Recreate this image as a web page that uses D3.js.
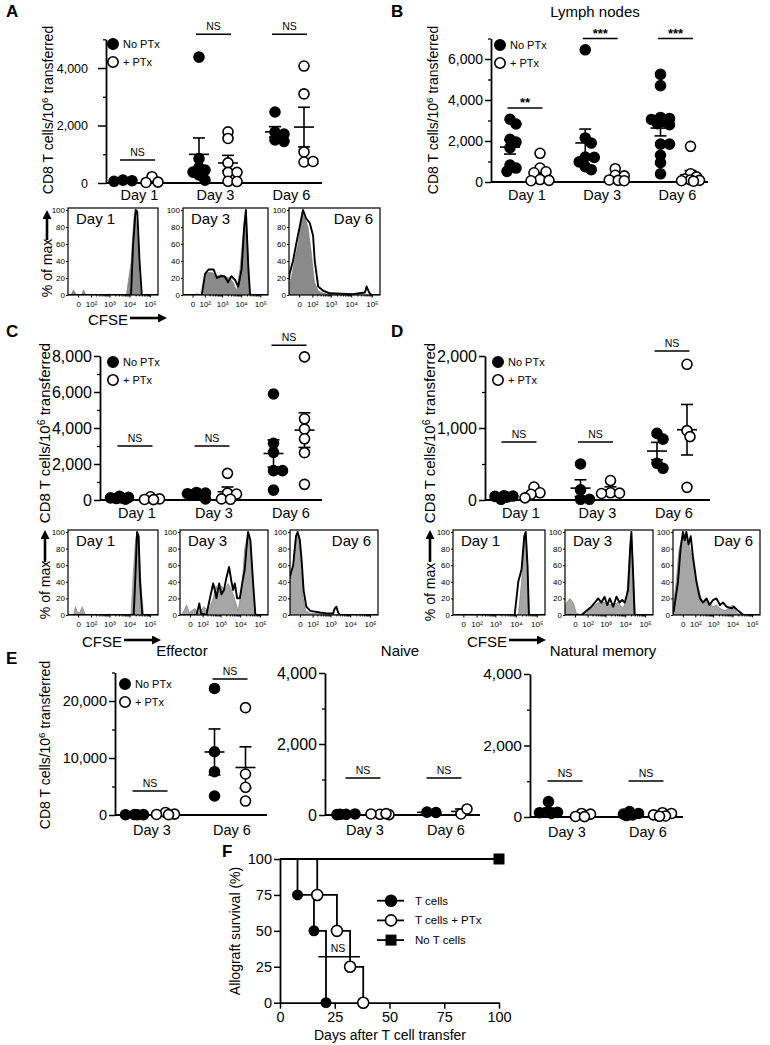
<!DOCTYPE html>
<html>
<head>
<meta charset="utf-8">
<script src="https://cdn.jsdelivr.net/npm/d3@7"></script>
<style>
body { margin: 0; background: #fff; }
svg text { font-family: "Liberation Sans", Arial, Helvetica, sans-serif; fill: #000; }
</style>
</head>
<body>
<svg id="fig" width="770" height="1045"></svg>
<script>
// ---- data ----
var days3 = ["Day 1", "Day 3", "Day 6"];
var daysE = ["Day 3", "Day 6"];
var groupNames = ["No PTx", "+ PTx"];

// A (untitled)
var aNoPtx = [[100, 80, 60], [4380, 850, 540, 450, 380, 280, 100], [2470, 1770, 1700, 1500, 1450]];
var aPtx = [[220, 30, 20], [1780, 1550, 700, 370, 370, 60, 50], [4070, 3100, 1080, 730, 750]];
var aSig = ["NS", "NS", "NS"];
var aSigY = [800, 5180, 5180];
var aTicks = [0, 2000, 4000];
var aMinor = [1000, 3000, 5000];

// B lymph nodes
var bNoPtx = [[3060, 2830, 2080, 1950, 1680, 830, 680, 520],
  [6450, 2150, 1900, 1220, 1200, 980, 750, 600],
  [5250, 4700, 3150, 3100, 3050, 2950, 2850, 2800, 1850, 1850, 1300, 950, 400]];
var bPtx = [[1400, 680, 500, 450, 120, 80, 60], [650, 330, 300, 100, 80, 60], [1740, 400, 250, 150, 100, 80, 60, 40]];
var bSig = ["**", "***", "***"];
var bSigY = [3610, 7000, 7000];
var bTicks = [0, 2000, 4000, 6000];
var bMinor = [1000, 3000, 5000, 7000];

// C
var cNoPtx = [[200, 150, 120, 100, 80, 50], [420, 380, 350, 320, 300, 60], [5890, 3150, 2650, 1630, 1630, 550]];
var cPtx = [[180, 60, 30, 20], [1480, 380, 330, 60, 40], [7950, 4510, 3940, 3400, 2630, 870]];
var cSig = ["NS", "NS", "NS"];
var cSigY = [3000, 3000, 8600];
var cTicks = [0, 2000, 4000, 6000, 8000];
var cMinor = [1000, 3000, 5000, 7000];

// D
var dNoPtx = [[60, 55, 50, 40, 10], [500, 140, 10, 10], [925, 845, 510, 440]];
var dPtx = [[180, 100, 80, 30], [270, 100, 95, 90], [1885, 963, 880, 176]];
var dSig = ["NS", "NS", "NS"];
var dSigY = [805, 805, 2070];
var dTicks = [0, 1000, 2000];
var dMinor = [500, 1500];

// E
var effNoPtx = [[80, 60, 50, 40], [22200, 11100, 7600, 3330]];
var effPtx = [[450, 150, 100, 60], [18830, 7190, 4860, 2450]];
var effSigY = [4210, 23860];
var effTicks = [0, 10000, 20000];
var effMinor = [5000, 15000, 25000];
var naiNoPtx = [[20, 30, 10, 20], [80, 70]];
var naiPtx = [[20, 10, 30, 40], [30, 170]];
var naiSigY = [1040, 1040];
var memNoPtx = [[430, 150, 130, 120, 100], [150, 100, 80, 60, 40]];
var memPtx = [[100, 80, 15, 10], [120, 100, 60, 30, 20]];
var memSigY = [1007, 1007];
var e4Ticks = [0, 2000, 4000];
var e4Minor = [1000, 3000];
var eSig = ["NS", "NS"];

// histograms: [CFSE, % of max]
var a1Fill = [[-64,0],[-35,0],[-22,6],[-4,0],[14,0],[25,6],[42,0],[7000,0],[11800,38],[17000,96],[19600,98],[26000,58],[31000,15],[37000,0],[250000,0]];
var a1Line = [[-64,0],[11800,0],[15000,60],[20000,100],[24000,98],[31000,40],[40000,0],[250000,0]];
var a3Fill = [[-64,0],[14,0],[20,2],[35,0],[60,0],[105,18],[135,27],[345,26],[527,22],[810,24],[1360,22],[2536,20],[3830,15],[5760,5],[8700,30],[14400,85],[17700,100],[24000,40],[27000,0],[250000,0]];
var a3Line = [[-64,0],[60,0],[105,25],[172,30],[345,30],[527,20],[810,22],[1360,22],[2070,15],[3100,22],[4700,18],[7070,10],[10600,30],[14400,80],[17700,100],[24000,30],[29500,0],[250000,0]];
var a6Fill = [[-64,15],[-43,20],[-21,40],[-4,60],[8,85],[15.6,95],[29,90],[50,80],[86,50],[135,15],[220,5],[405,2],[1300,1],[11800,0],[250000,0]];
var a6Line = [[-64,18],[-58,25],[-30,40],[-12,60],[1.5,80],[15.6,100],[25,95],[35,90],[67,85],[111,70],[140,40],[220,10],[405,5],[897,2],[11800,1],[46500,3],[55900,10],[74000,3],[95000,0],[250000,0]];
var c1Fill = [[-64,0],[-20,0],[-10,10],[-2,3],[5.7,3],[18,10],[39,0],[11800,0],[14400,40],[19650,90],[23400,100],[29600,80],[38000,30],[49000,0],[250000,0]];
var c1Line = [[-64,0],[16000,0],[19650,50],[23400,100],[28000,95],[32700,40],[42500,0],[250000,0]];
var c3Fill = [[-64,0],[-47,0],[-14,12],[-2,3],[23.6,8],[50,2],[121,10],[220,5],[412,20],[585,35],[760,28],[1125,35],[1670,30],[2460,38],[3640,30],[5200,20],[7820,5],[11800,30],[17000,80],[25000,100],[32700,90],[44300,30],[60000,0],[250000,0]];
var c3Line = [[-64,0],[35,0],[59,14],[78,2],[172,0],[273,20],[412,38],[506,30],[617,20],[850,38],[1125,25],[1512,30],[2020,45],[2750,58],[3640,40],[4420,30],[5360,38],[7070,20],[9560,20],[13000,40],[17000,55],[20600,80],[25000,100],[32700,90],[44300,40],[58200,0],[250000,0]];
var c6Fill = [[-64,45],[-57,50],[-35,60],[-17,95],[-9,100],[0,85],[6.4,60],[14,20],[29,5],[64,2],[1360,1],[5000,0],[250000,0]];
var c6Line = [[-64,45],[-57,50],[-35,60],[-17,95],[-9,100],[0,90],[7,65],[16,30],[33,10],[70,5],[273,3],[617,2],[1360,2],[1670,8],[2020,10],[2460,3],[3100,0],[250000,0]];
var d1Fill = [[-64,0],[13000,0],[18700,40],[25300,95],[29600,100],[36200,60],[44300,0],[250000,0]];
var d1Line = [[-64,0],[8700,0],[13000,40],[18700,55],[25300,95],[29600,100],[36200,60],[42100,0],[250000,0]];
var d3Fill = [[-64,10],[-47,15],[-23,20],[-6.4,15],[5.7,2],[35,0],[64,3],[172,8],[412,15],[897,15],[2020,12],[4240,15],[7820,8],[11800,20],[17000,80],[20600,100],[25000,60],[32700,0],[250000,0]];
var d3Line = [[-64,0],[35,0],[85,5],[172,10],[273,15],[412,20],[617,15],[897,22],[1230,12],[1670,20],[2460,10],[3640,22],[5200,15],[7070,18],[9560,15],[14000,30],[18300,85],[20600,100],[25000,50],[29600,0],[250000,0]];
var d6Fill = [[-64,10],[-56,15],[-35,40],[-19,75],[-5.7,90],[4.6,95],[15.6,100],[29,85],[50,75],[78,60],[119,40],[192,25],[292,15],[450,20],[654,15],[1000,10],[1512,12],[2290,8],[4240,5],[7370,10],[10600,12],[16000,3],[29600,0],[250000,0]];
var d6Line = [[-64,3],[-56,5],[-22.5,40],[-8.7,80],[0.6,100],[7.5,90],[15.6,100],[29,85],[46,95],[69,70],[119,40],[192,20],[292,15],[450,20],[654,12],[1000,18],[1512,20],[2290,12],[3340,15],[4940,10],[8920,8],[11800,10],[19650,5],[36200,0],[250000,0]];
var cfseTicks = [0, 100, 1000, 10000, 100000];
var cfseLabels = ["0", "10\u00b2", "10\u00b3", "10\u2074", "10\u2075"];
var pctTicks = [0, 20, 40, 60, 80, 100];

// F survival
var fTicks = [0, 25, 50, 75, 100];
var fTcells = [[0, 100], [8, 75], [15.5, 50], [21, 0]];
var fTcellsPtx = [[0, 100], [17, 75], [26, 50], [32, 25], [38, 0]];
var fNoTcells = [[0, 100], [100, 100]];
var fLegend = ["T cells", "T cells + PTx", "No T cells"];

var svg = d3.select("#fig");
var fmt = d3.format(",");

// scatter spreading like Prism: nearest free slot, capped width
function swarm(vals, y, r) {
  var placed = [];
  var step = r * 0.6, minD = r * 1.3, maxSpread = r * 2.2;
  vals.forEach(function(v) {
    var p = {v: v, py: y(v), dx: 0};
    var cands = [0];
    for (var k = 1; k * step <= maxSpread + 0.01; k++) { cands.push(k * step, -k * step); }
    var best = null, bestD = -1;
    for (var i = 0; i < cands.length; i++) {
      var dx = cands[i];
      var dmin = d3.min(placed, function(q) { return Math.hypot(q.dx - dx, q.py - p.py); });
      if (dmin === undefined) dmin = Infinity;
      if (dmin >= minD) { best = dx; break; }
      if (dmin > bestD) { bestD = dmin; best = dx; }
    }
    p.dx = best;
    placed.push(p);
  });
  return placed;
}

function dotPanel(p) {
  var g = svg.append("g");
  var y = d3.scaleLinear().domain([0, p.max]).range([p.y0, p.yTop]);
  var x = d3.scalePoint().domain(p.days).range([p.c0, p.c1]);

  var ax = g.append("g").attr("transform", "translate(" + p.ax + ",0)")
    .call(d3.axisLeft(y).tickValues(p.ticks).tickSize(p.tickLen || 6).tickSizeOuter(0).tickPadding(p.pad || 2).tickFormat(fmt));
  ax.select(".domain").attr("stroke-width", 1.8);
  ax.selectAll(".tick line").attr("stroke-width", 1.5);
  ax.selectAll(".tick text").style("font-size", p.tickFont + "px");
  var mn = g.append("g").attr("transform", "translate(" + p.ax + ",0)")
    .call(d3.axisLeft(y).tickValues(p.minor).tickSize(3).tickFormat(""));
  mn.select(".domain").remove();
  mn.selectAll(".tick line").attr("stroke-width", 1.3);

  g.append("line").attr("x1", p.ax).attr("x2", p.ax2).attr("y1", y(0)).attr("y2", y(0))
    .attr("stroke", "#000").attr("stroke-width", 1.8);

  g.selectAll(".dayl").data(p.days).enter().append("text")
    .attr("x", function(d) { return x(d) + 2; }).attr("y", p.dayY)
    .attr("text-anchor", "middle").style("font-size", "14.5px").text(function(d) { return d; });

  [p.noPtx, p.ptx].forEach(function(series, gi) {
    series.forEach(function(vals, di) {
      var cx = x(p.days[di]) + (gi === 0 ? -p.off : p.off);
      var m = d3.mean(vals), s = d3.deviation(vals) / Math.sqrt(vals.length);
      var lo = Math.max(0, m - s), hi = m + s;
      var eb = g.append("g").attr("stroke", "#000").attr("stroke-width", 1.6);
      eb.append("line").attr("x1", cx - 10).attr("x2", cx + 10).attr("y1", y(m)).attr("y2", y(m));
      eb.append("line").attr("x1", cx).attr("x2", cx).attr("y1", y(lo)).attr("y2", y(hi));
      eb.append("line").attr("x1", cx - 6).attr("x2", cx + 6).attr("y1", y(hi)).attr("y2", y(hi));
      eb.append("line").attr("x1", cx - 6).attr("x2", cx + 6).attr("y1", y(lo)).attr("y2", y(lo));
      g.selectAll(null).data(swarm(vals, y, p.r)).enter().append("circle")
        .attr("cx", function(d) { return cx + d.dx; }).attr("cy", function(d) { return d.py; })
        .attr("r", p.r).attr("fill", gi === 0 ? "#000" : "#fff")
        .attr("stroke", "#000").attr("stroke-width", 1.6);
    });
  });

  p.sig.forEach(function(t, i) {
    var cx = x(p.days[i]);
    g.append("line").attr("x1", cx - 17.5).attr("x2", cx + 17.5)
      .attr("y1", y(p.sigY[i])).attr("y2", y(p.sigY[i])).attr("stroke", "#000").attr("stroke-width", 1.5);
    g.append("text").attr("x", cx).attr("y", y(p.sigY[i]) - (t === "NS" ? 4 : 1))
      .attr("text-anchor", "middle")
      .style("font-size", t === "NS" ? "10.5px" : "13px").style("font-weight", t === "NS" ? "normal" : "bold")
      .text(t);
  });

  if (p.legend) {
    groupNames.forEach(function(nm, i) {
      var ly = p.legend[1] + i * 18;
      g.append("circle").attr("cx", p.legend[0]).attr("cy", ly).attr("r", 5.2)
        .attr("fill", i === 0 ? "#000" : "#fff").attr("stroke", "#000").attr("stroke-width", 1.6);
      g.append("text").attr("x", p.legend[0] + 10).attr("y", ly + 4).style("font-size", "11px").text(nm);
    });
  }
  if (p.ylab) yLabel(p.ylab[0], p.ylab[1], p.ylab[2]);
  if (p.title) {
    g.append("text").attr("x", p.title[1]).attr("y", p.title[2]).attr("text-anchor", "middle")
      .style("font-size", "15px").text(p.title[0]);
  }
}

function yLabel(x, y, fs) {
  var t = svg.append("text").attr("transform", "translate(" + x + "," + y + ") rotate(-90)")
    .attr("text-anchor", "middle").style("font-size", fs + "px");
  t.append("tspan").text("CD8 T cells/10");
  t.append("tspan").attr("dy", -fs * 0.35).style("font-size", (fs * 0.7) + "px").text("6");
  t.append("tspan").attr("dy", fs * 0.35).text(" transferred");
}

function histBox(bx, by, bw, bh, fillData, lineData, label, right, fillColor) {
  var g = svg.append("g");
  var x = d3.scaleSymlog().constant(30).domain([-64, 250000]).range([bx, bx + bw]);
  var y = d3.scaleLinear().domain([0, 100]).range([by + bh, by + 2]);
  var cid = "clip" + Math.round(bx) + "_" + Math.round(by);
  g.append("clipPath").attr("id", cid).append("rect").attr("x", bx).attr("y", by).attr("width", bw).attr("height", bh);
  var area = d3.area().x(function(d) { return x(d[0]); }).y0(y(0)).y1(function(d) { return y(d[1]); });
  var line = d3.line().x(function(d) { return x(d[0]); }).y(function(d) { return y(d[1]); });
  var inner = g.append("g").attr("clip-path", "url(#" + cid + ")");
  inner.append("path").attr("d", area(fillData)).attr("fill", fillColor).attr("stroke", "#777").attr("stroke-width", 0.6);
  inner.append("path").attr("d", line(lineData)).attr("fill", "none").attr("stroke", "#000").attr("stroke-width", 1.9)
    .attr("stroke-linejoin", "round");
  g.append("rect").attr("x", bx).attr("y", by).attr("width", bw).attr("height", bh)
    .attr("fill", "none").attr("stroke", "#000").attr("stroke-width", 1.2);

  var ya = g.append("g").attr("transform", "translate(" + bx + ",0)")
    .call(d3.axisLeft(y).tickValues(pctTicks).tickSize(2).tickPadding(1));
  ya.select(".domain").remove();
  ya.selectAll(".tick text").style("font-size", "8px");
  var xa = g.append("g").attr("transform", "translate(0," + (by + bh) + ")")
    .call(d3.axisBottom(x).tickValues(cfseTicks).tickSize(2.5).tickPadding(4)
      .tickFormat(function(d, i) { return cfseLabels[i]; }));
  xa.select(".domain").remove();
  xa.selectAll(".tick text").style("font-size", "8px");
  var minors = [];
  [100, 1000, 10000].forEach(function(dec) { for (var k = 2; k < 10; k++) minors.push(dec * k); });
  var xm = g.append("g").attr("transform", "translate(0," + (by + bh) + ")")
    .call(d3.axisBottom(x).tickValues(minors).tickSize(1.5).tickFormat(""));
  xm.select(".domain").remove();

  g.append("text").attr("x", right ? bx + bw - 7 : bx + 8).attr("y", by + 16)
    .attr("text-anchor", right ? "end" : "start").style("font-size", "15px").text(label);
}

svg.append("defs").append("marker").attr("id", "arr").attr("markerWidth", 9).attr("markerHeight", 9)
  .attr("refX", 2).attr("refY", 4.5).attr("orient", "auto").attr("markerUnits", "userSpaceOnUse")
  .attr("viewBox", "0 0 9 9").append("path").attr("d", "M0,0 L9,4.5 L0,9 z").attr("fill", "#000");

function histLabels(xc, yc, arrowTop, arrowBot, cfseX, cfseY, arrowY) {
  svg.append("text").attr("transform", "translate(" + (xc + 5) + "," + yc + ") rotate(-90)")
    .attr("text-anchor", "middle").style("font-size", "14px").text("% of max");
  svg.append("line").attr("x1", xc).attr("x2", xc).attr("y1", arrowBot).attr("y2", arrowTop + 7)
    .attr("stroke", "#000").attr("stroke-width", 2.6).attr("marker-end", "url(#arr)");
  svg.append("text").attr("x", cfseX).attr("y", cfseY).style("font-size", "15px").text("CFSE");
  svg.append("line").attr("x1", cfseX + 42).attr("x2", cfseX + 72).attr("y1", arrowY).attr("y2", arrowY)
    .attr("stroke", "#000").attr("stroke-width", 2.6).attr("marker-end", "url(#arr)");
}

function letter(t, x, y) {
  svg.append("text").attr("x", x).attr("y", y).style("font-size", "17px").style("font-weight", "bold").text(t);
}

// ---- panels ----
letter("A", 6, 17); letter("B", 391, 17); letter("C", 6, 337); letter("D", 391, 337); letter("E", 6, 664); letter("F", 222, 857);

dotPanel({ax: 106, ax2: 322, y0: 183, yTop: 39.3, max: 5000, ticks: aTicks, minor: aMinor, days: days3,
  c0: 137.5, c1: 289.5, off: 14.5, noPtx: aNoPtx, ptx: aPtx, sig: aSig, sigY: aSigY, tickFont: 12.5, dayY: 200, r: 5,
  tickLen: 8, pad: 10, legend: [113, 44], ylab: [53, 110, 14]});
dotPanel({ax: 491, ax2: 708, y0: 182, yTop: 38.5, max: 7000, ticks: bTicks, minor: bMinor, days: days3,
  c0: 525, c1: 675.5, off: 15, noPtx: bNoPtx, ptx: bPtx, sig: bSig, sigY: bSigY, tickFont: 14, dayY: 200, r: 5,
  legend: [500, 45], ylab: [438, 110, 14], title: ["Lymph nodes", 595, 17]});
dotPanel({ax: 100, ax2: 322, y0: 500, yTop: 356, max: 8000, ticks: cTicks, minor: cMinor, days: days3,
  c0: 135, c1: 289, off: 15.5, noPtx: cNoPtx, ptx: cPtx, sig: cSig, sigY: cSigY, tickFont: 16, dayY: 518, r: 5,
  legend: [113, 362], ylab: [50, 433, 15]});
dotPanel({ax: 485, ax2: 710, y0: 500, yTop: 356, max: 2000, ticks: dTicks, minor: dMinor, days: days3,
  c0: 519, c1: 672, off: 15, noPtx: dNoPtx, ptx: dPtx, sig: dSig, sigY: dSigY, tickFont: 16, dayY: 518, r: 5,
  legend: [498, 362], ylab: [435, 433, 15]});
dotPanel({ax: 115, ax2: 267, y0: 815, yTop: 672.5, max: 25000, ticks: effTicks, minor: effMinor, days: daysE,
  c0: 150, c1: 230, off: 15.5, noPtx: effNoPtx, ptx: effPtx, sig: eSig, sigY: effSigY, tickFont: 14.5, dayY: 835, r: 5,
  legend: [125, 684], ylab: [50, 745, 14], title: ["Effector", 182, 656]});
dotPanel({ax: 325, ax2: 480, y0: 815, yTop: 673, max: 4000, ticks: e4Ticks, minor: e4Minor, days: daysE,
  c0: 363, c1: 444, off: 17, noPtx: naiNoPtx, ptx: naiPtx, sig: eSig, sigY: naiSigY, tickFont: 16, dayY: 835, r: 5,
  title: ["Naive", 400, 656]});
dotPanel({ax: 530, ax2: 683, y0: 817, yTop: 674, max: 4000, ticks: e4Ticks, minor: e4Minor, days: daysE,
  c0: 565, c1: 646, off: 16.5, noPtx: memNoPtx, ptx: memPtx, sig: eSig, sigY: memSigY, tickFont: 15.5, dayY: 837, r: 5,
  title: ["Natural memory", 603, 656]});

// histogram rows
var greyA = "#8a8a8a", greyC = "#a6a6a6";
histBox(68, 208, 90, 87, a1Fill, a1Line, "Day 1", false, greyA);
histBox(183, 208, 85, 87, a3Fill, a3Line, "Day 3", false, greyA);
histBox(289, 208, 91, 87, a6Fill, a6Line, "Day 6", true, greyA);
histLabels(47, 268, 210, 240, 88, 325, 318);
histBox(68, 530, 90, 85, c1Fill, c1Line, "Day 1", false, greyC);
histBox(180, 530, 88, 85, c3Fill, c3Line, "Day 3", false, greyC);
histBox(290, 530, 88, 85, c6Fill, c6Line, "Day 6", true, greyC);
histLabels(45, 590, 530, 562, 82, 647, 640);
histBox(453, 530, 92, 85, d1Fill, d1Line, "Day 1", false, greyC);
histBox(565, 530, 88, 85, d3Fill, d3Line, "Day 3", false, greyC);
histBox(673, 530, 87, 85, d6Fill, d6Line, "Day 6", true, greyC);
histLabels(430, 592, 530, 562, 467, 647, 640);

// ---- F survival ----
(function() {
  var g = svg.append("g");
  var x = d3.scaleLinear().domain([0, 100]).range([280, 499]);
  var y = d3.scaleLinear().domain([0, 100]).range([1002.7, 859]);
  var ya = g.append("g").attr("transform", "translate(280,0)")
    .call(d3.axisLeft(y).tickValues(fTicks).tickSize(6).tickSizeOuter(0).tickPadding(2));
  var xa = g.append("g").attr("transform", "translate(0,1002.7)")
    .call(d3.axisBottom(x).tickValues(fTicks).tickSize(6).tickSizeOuter(0).tickPadding(3));
  [ya, xa].forEach(function(a) {
    a.select(".domain").attr("stroke-width", 1.8);
    a.selectAll(".tick line").attr("stroke-width", 1.5);
    a.selectAll(".tick text").style("font-size", "14.5px");
  });
  var step = d3.line().x(function(d) { return x(d[0]); }).y(function(d) { return y(d[1]); }).curve(d3.curveStepAfter);
  [fTcells, fTcellsPtx, fNoTcells].forEach(function(s) {
    g.append("path").attr("d", step(s)).attr("fill", "none").attr("stroke", "#000").attr("stroke-width", 1.8);
  });
  g.selectAll(null).data(fTcells.slice(1)).enter().append("circle")
    .attr("cx", function(d) { return x(d[0]); }).attr("cy", function(d) { return y(d[1]); })
    .attr("r", 5.5).attr("fill", "#000");
  g.selectAll(null).data(fTcellsPtx.slice(1)).enter().append("circle")
    .attr("cx", function(d) { return x(d[0]); }).attr("cy", function(d) { return y(d[1]); })
    .attr("r", 5.5).attr("fill", "#fff").attr("stroke", "#000").attr("stroke-width", 1.6);
  g.selectAll(null).data(fNoTcells.slice(1)).enter().append("rect")
    .attr("x", function(d) { return x(d[0]) - 5.5; }).attr("y", function(d) { return y(d[1]) - 5.5; })
    .attr("width", 11).attr("height", 11).attr("fill", "#000");
  // NS comparison
  g.append("line").attr("x1", x(17.5)).attr("x2", x(36.5)).attr("y1", y(32)).attr("y2", y(32))
    .attr("stroke", "#000").attr("stroke-width", 1.5);
  g.append("text").attr("x", x(26.5)).attr("y", y(32) - 5).attr("text-anchor", "middle").style("font-size", "10.5px").text("NS");
  // legend
  fLegend.forEach(function(nm, i) {
    var ly = 900.7 + i * 19.7;
    g.append("line").attr("x1", 377).attr("x2", 404).attr("y1", ly).attr("y2", ly).attr("stroke", "#000").attr("stroke-width", 1.8);
    if (i === 2) {
      g.append("rect").attr("x", 385.5).attr("y", ly - 5.5).attr("width", 11).attr("height", 11).attr("fill", "#000");
    } else {
      g.append("circle").attr("cx", 391).attr("cy", ly).attr("r", 5.5).attr("fill", i === 0 ? "#000" : "#fff")
        .attr("stroke", "#000").attr("stroke-width", 1.6);
    }
    g.append("text").attr("x", 415).attr("y", ly + 4).style("font-size", "11.5px").text(nm);
  });
  g.append("text").attr("transform", "translate(240,931) rotate(-90)").attr("text-anchor", "middle")
    .style("font-size", "14px").text("Allograft survival (%)");
  g.append("text").attr("x", 390).attr("y", 1040).attr("text-anchor", "middle")
    .style("font-size", "14px").text("Days after T cell transfer");
})();
</script>
</body>
</html>
